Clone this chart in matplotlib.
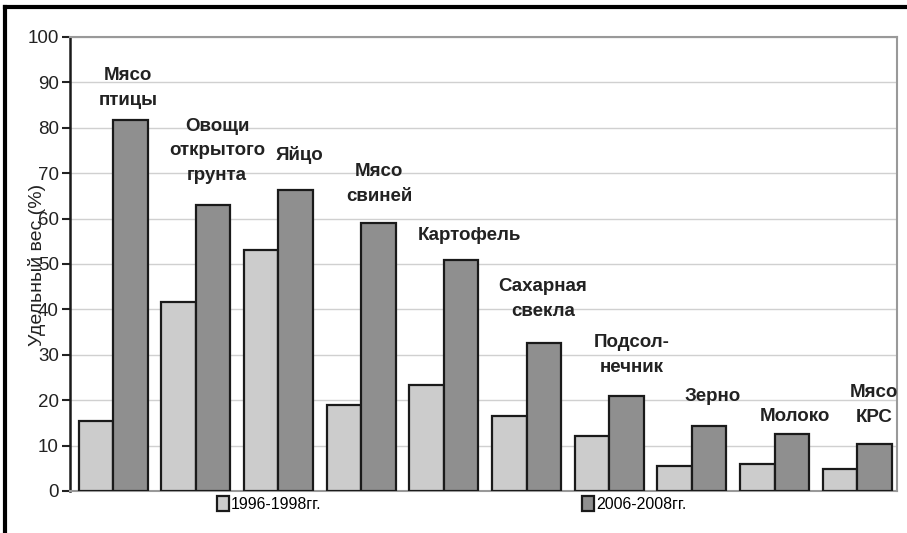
import numpy as np
import matplotlib.pyplot as plt

plt.rcParams['font.family'] = ['Liberation Sans', 'DejaVu Sans']

labels = ["Мясо\nптицы", "Овощи\nоткрытого\nгрунта", "Яйцо", "Мясо\nсвиней",
          "Картофель", "Сахарная\nсвекла", "Подсол-\nнечник", "Зерно",
          "Молоко", "Мясо\nКРС"]
v1996 = [15.4, 41.6, 53.1, 18.9, 23.3, 16.6, 12.1, 5.4, 6.0, 4.8]
v2006 = [81.7, 63.0, 66.3, 59.0, 50.9, 32.6, 20.9, 14.4, 12.6, 10.4]
# label positions (x offset from group centre, y centre in %)
label_dx = [0.18, 0.26, 0.25, 0.22, 0.31, 0.2, 0.27, 0.25, 0.24, 0.2]
label_y = [88.8, 74.9, 74.0, 67.6, 56.2, 42.3, 30.0, 20.9, 16.5, 18.9]

fig = plt.figure(figsize=(9.07, 5.33), dpi=100)
ax = fig.add_axes([0.0772, 0.0788, 0.9118, 0.8518])

x = np.arange(len(labels))
w = 0.417
b1 = ax.bar(x - w / 2, v1996, w, color="#cccccc", edgecolor="#1a1a1a", lw=1.6,
            label="1996-1998гг.", zorder=3)
b2 = ax.bar(x + w / 2, v2006, w, color="#8f8f8f", edgecolor="#1a1a1a", lw=1.6,
            label="2006-2008гг.", zorder=3)

for i, lab in enumerate(labels):
    ax.text(x[i] + label_dx[i], label_y[i], lab, ha="center", va="center",
            fontsize=13.5, fontweight="bold", linespacing=1.6, color="#222222",
            zorder=4)

ax.set_xlim(-0.52, 9.48)
ax.set_ylim(0, 100)
ax.set_yticks(range(0, 101, 10))
ax.set_xticks([])
ax.tick_params(axis="y", labelsize=13.5, length=6, width=1.5, direction="out",
               pad=2, colors="#222222")
ax.yaxis.grid(True, color="#d0d0d0", lw=1, zorder=0)
for s in ["top", "right", "bottom"]:
    ax.spines[s].set_color("#999999")
    ax.spines[s].set_linewidth(1.5)
ax.spines["left"].set_linewidth(1.8)
ax.spines["left"].set_color("#1a1a1a")

fig.text(0.041, 0.503, "Удельный вес (%)", rotation=90, ha="center", va="center",
         fontsize=14, color="#222222")

fig.legend(handles=[b1, b2], loc="center", bbox_to_anchor=(0.498, 0.054), ncol=2,
           frameon=False, fontsize=11.4, handlelength=0.75, handleheight=1.0,
           handletextpad=0.1, columnspacing=16.5)

# outer frame (top and left visible)
fig.add_artist(plt.Line2D([0.006, 1.0], [0.987, 0.987], color="black", lw=3,
                          transform=fig.transFigure))
fig.add_artist(plt.Line2D([0.006, 0.006], [0.0, 0.987], color="black", lw=3,
                          transform=fig.transFigure))

fig.savefig("out.png", dpi=100)
